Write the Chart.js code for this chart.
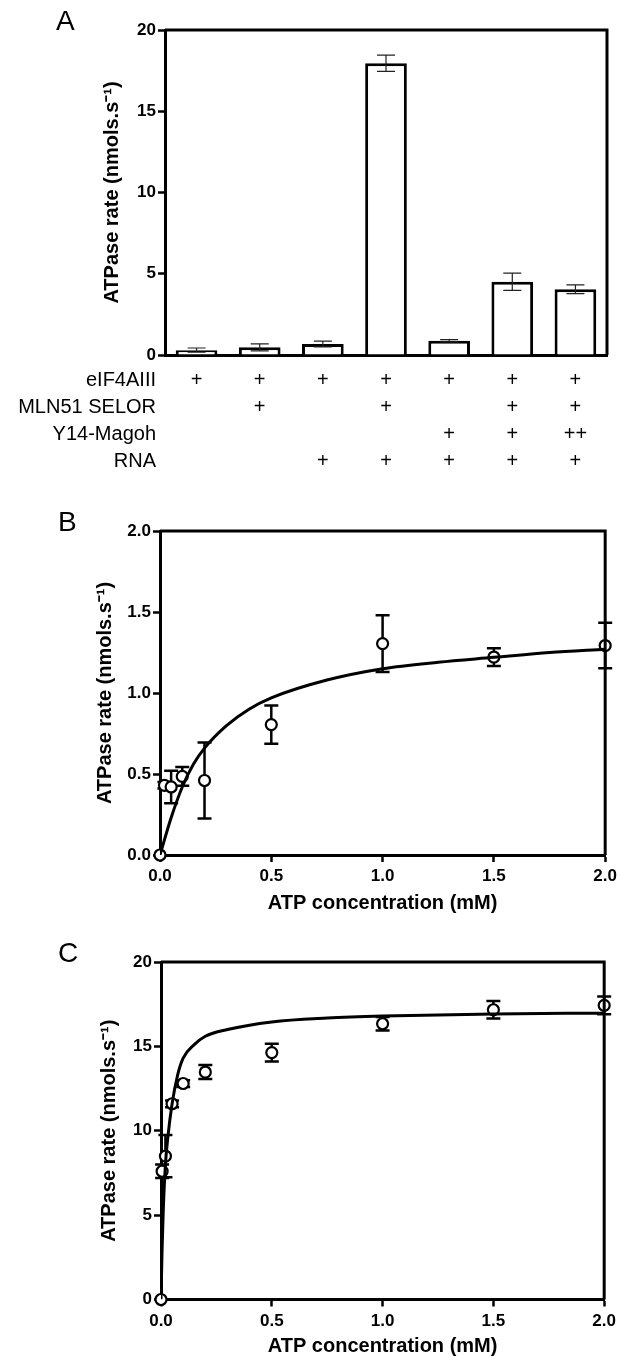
<!DOCTYPE html>
<html>
<head>
<meta charset="utf-8">
<title>ATPase activity of eIF4AIII</title>
<script src="https://cdn.jsdelivr.net/npm/chart.js@4.4.1/dist/chart.umd.min.js"></script>
<style>
  html, body { margin: 0; padding: 0; background: #fff; }
  #wrap { position: relative; width: 621px; height: 1357px; overflow: hidden; }
  canvas { position: absolute; left: 0; }
</style>
</head>
<body>
<div id="wrap">
  <canvas id="chartA" width="621" height="480" style="top:0"></canvas>
  <canvas id="chartB" width="621" height="440" style="top:480px"></canvas>
  <canvas id="chartC" width="621" height="437" style="top:920px"></canvas>
</div>
<script>
// --- Panel A: ATPase rate per condition ---
const conditions = ['1', '2', '3', '4', '5', '6', '7'];
const rateA = [0.30, 0.47, 0.68, 17.95, 0.88, 4.51, 4.05];
const errA = [0.13, 0.21, 0.18, 0.50, 0.07, 0.53, 0.27];

// condition table under the bars
const rowNames = ['eIF4AIII', 'MLN51 SELOR', 'Y14-Magoh', 'RNA'];
const eif4aiii = ['+', '+', '+', '+', '+', '+', '+'];
const mln51 = ['', '+', '', '+', '', '+', '+'];
const y14magoh = ['', '', '', '', '+', '+', '++'];
const rna = ['', '', '+', '+', '+', '+', '+'];

// --- Panel B: eIF4AIII + MLN51 (low rate) ---
const atpB = [0, 0.02, 0.05, 0.1, 0.2, 0.5, 1.0, 1.5, 2.0];
const rateB = [0, 0.43, 0.42, 0.485, 0.46, 0.805, 1.305, 1.222, 1.293];
const errB = [0, 0.02, 0.10, 0.058, 0.235, 0.118, 0.175, 0.055, 0.14];
const fitXB = [0, 0.05, 0.1, 0.15, 0.2, 0.3, 0.4, 0.5, 0.75, 1.0, 1.25, 1.5, 1.75, 2.0];
const fitYB = [0, 0.23, 0.42, 0.56, 0.66, 0.80, 0.90, 0.97, 1.08, 1.15, 1.19, 1.22, 1.25, 1.27];

// --- Panel C: full complex + RNA ---
const atpC = [0, 0.005, 0.02, 0.05, 0.1, 0.2, 0.5, 1.0, 1.5, 2.0];
const rateC = [0, 7.6, 8.5, 11.6, 12.8, 13.48, 14.63, 16.34, 17.17, 17.43];
const errC = [0, 0.4, 1.25, 0.2, 0.2, 0.42, 0.52, 0.4, 0.52, 0.53];
const fitXC = [0, 0.005, 0.01, 0.02, 0.03, 0.05, 0.075, 0.1, 0.15, 0.2, 0.3, 0.5, 0.75, 1.0, 1.5, 2.0];
const fitYC = [0, 3.0, 5.2, 8.0, 9.5, 11.6, 13.3, 14.3, 15.1, 15.6, 16.0, 16.45, 16.68, 16.8, 16.92, 16.97];

const yTitle = 'ATPase rate (nmols.s\u207B\u00B9)';
const xTitle = 'ATP concentration (mM)';

const FONT = '"Liberation Sans", Arial, Helvetica, sans-serif';
Chart.defaults.font.family = FONT;
Chart.defaults.color = '#000';

const tickFont = { size: 17, weight: 'bold' };
const titleFont = { size: 20, weight: 'bold' };

// error bars, drawn with the y scale of the chart
function drawErrors(chart, opts) {
    const ctx = chart.ctx;
    const yScale = chart.scales.y;
    chart.data.datasets.forEach((ds, di) => {
        if (!ds.errors) return;
        const meta = chart.getDatasetMeta(di);
        ctx.save();
        ctx.strokeStyle = opts.color;
        ctx.lineWidth = opts.width;
        meta.data.forEach((el, i) => {
            const e = ds.errors[i];
            if (!e) return;
            const raw = ds.data[i];
            const v = typeof raw === 'object' ? raw.y : raw;
            const top = yScale.getPixelForValue(v + e);
            const bot = yScale.getPixelForValue(v - e);
            const half = opts.cap / 2;
            ctx.beginPath();
            ctx.moveTo(el.x, top); ctx.lineTo(el.x, bot);
            ctx.moveTo(el.x - half, top); ctx.lineTo(el.x + half, top);
            ctx.moveTo(el.x - half, bot); ctx.lineTo(el.x + half, bot);
            ctx.stroke();
        });
        ctx.restore();
    });
}

const errorBars = {
    id: 'errorBars',
    beforeDatasetsDraw(chart, args, opts) { if (opts.under) drawErrors(chart, opts); },
    afterDatasetsDraw(chart, args, opts) { if (!opts.under) drawErrors(chart, opts); }
};

// top + right edges of the box
const frame = {
    id: 'frame',
    afterDatasetsDraw(chart, args, opts) {
        const { ctx, chartArea: a } = chart;
        ctx.save();
        ctx.strokeStyle = '#000';
        ctx.lineWidth = opts.width;
        ctx.beginPath();
        ctx.moveTo(a.left, a.top);
        ctx.lineTo(a.right, a.top);
        ctx.lineTo(a.right, a.bottom);
        ctx.stroke();
        ctx.restore();
    }
};

// the A / B / C letter
const panelLetter = {
    id: 'panelLetter',
    afterDraw(chart, args, opts) {
        const ctx = chart.ctx;
        ctx.save();
        ctx.font = '28px ' + FONT;
        ctx.fillStyle = '#000';
        ctx.textBaseline = 'alphabetic';
        ctx.fillText(opts.text, opts.x, chart.chartArea.top);
        ctx.restore();
    }
};

// row names of the condition table, lined up with the x tick lines
const rowLabels = {
    id: 'rowLabels',
    afterDraw(chart) {
        const ctx = chart.ctx;
        const xs = chart.scales.x;
        const tOpts = xs.options.ticks;
        const lh = tOpts.font.size * tOpts.font.lineHeight;
        ctx.save();
        ctx.font = tOpts.font.size + 'px ' + FONT;
        ctx.fillStyle = '#000';
        ctx.textAlign = 'right';
        ctx.textBaseline = 'middle';
        rowNames.forEach((name, i) => {
            ctx.fillText(name, chart.chartArea.left - 9, xs.top + tOpts.padding + lh / 2 + i * lh);
        });
        ctx.restore();
    }
};

function yAxis(max, step, decimals, width, titlePad) {
    return {
        min: 0, max: max, z: 1,
        border: { color: '#000', width: 3 },
        grid: { drawOnChartArea: false, drawTicks: true, tickLength: 7, tickWidth: 2.5, tickColor: '#000' },
        ticks: { stepSize: step, padding: 2, color: '#000', font: tickFont, callback: v => v.toFixed(decimals) },
        title: { display: true, text: yTitle, color: '#000', font: titleFont, padding: { top: titlePad, bottom: 0 } },
        afterFit(s) { s.width = width; }
    };
}

function xAxisConc(height, tickPad, titlePad) {
    return {
        type: 'linear', min: 0, max: 2, z: 1,
        border: { color: '#000', width: 3 },
        grid: { drawOnChartArea: false, drawTicks: true, tickLength: 7, tickWidth: 2.5, tickColor: '#000' },
        ticks: { stepSize: 0.5, padding: tickPad, color: '#000', font: tickFont, maxRotation: 0, callback: v => v.toFixed(1) },
        title: { display: true, text: xTitle, color: '#000', font: titleFont, padding: { top: 0, bottom: titlePad } },
        afterFit(s) { s.height = height; }
    };
}

const common = {
    responsive: false,
    animation: false,
    devicePixelRatio: 1,
    events: []
};

// Panel A
new Chart(document.getElementById('chartA'), {
    type: 'bar',
    data: {
        labels: conditions.map((c, i) => [eif4aiii[i], mln51[i], y14magoh[i], rna[i]]),
        datasets: [{
            data: rateA,
            errors: errA,
            backgroundColor: '#fff',
            borderColor: '#000',
            borderWidth: 3,
            barPercentage: 0.66,
            categoryPercentage: 1
        }]
    },
    options: {
        ...common,
        layout: { padding: { top: 30, right: 14, left: 0, bottom: 0 } },
        plugins: {
            legend: { display: false },
            tooltip: { enabled: false },
            errorBars: { color: '#222', width: 1.2, cap: 18, under: false },
            frame: { width: 3 },
            panelLetter: { text: 'A', x: 56 }
        },
        scales: {
            x: {
                z: 1,
                border: { color: '#000', width: 3 },
                grid: { drawOnChartArea: false, drawTicks: false },
                ticks: { padding: 11.5, color: '#000', autoSkip: false, maxRotation: 0, font: { size: 20, lineHeight: 1.35 } },
                afterFit(s) { s.height = 125; }
            },
            y: yAxis(20, 5, 0, 165, 100)
        }
    },
    plugins: [errorBars, frame, panelLetter, rowLabels]
});

function kineticsChart(id, xs, ys, errs, fx, fy, opts) {
    return new Chart(document.getElementById(id), {
        type: 'scatter',
        data: {
            datasets: [
                {
                    data: fx.map((x, i) => ({ x: x, y: fy[i] })),
                    showLine: true,
                    borderColor: '#000',
                    borderWidth: 3,
                    pointRadius: 0,
                    fill: false,
                    cubicInterpolationMode: 'monotone'
                },
                {
                    data: xs.map((x, i) => ({ x: x, y: ys[i] })),
                    errors: errs,
                    showLine: false,
                    pointRadius: 5.5,
                    pointBorderWidth: 2.2,
                    pointBorderColor: '#000',
                    pointBackgroundColor: '#fff',
                    clip: false
                }
            ]
        },
        options: {
            ...common,
            layout: { padding: { top: opts.top, right: opts.right, left: 0, bottom: 0 } },
            plugins: {
                legend: { display: false },
                tooltip: { enabled: false },
                errorBars: { color: '#000', width: 2.5, cap: 14, under: true },
                frame: { width: 3 },
                panelLetter: { text: opts.letter, x: 58 }
            },
            scales: {
                x: xAxisConc(opts.xHeight, opts.tickPad, opts.xTitlePad),
                y: yAxis(opts.yMax, opts.yStep, opts.yDec, opts.yWidth, opts.yTitlePad)
            }
        },
        plugins: [errorBars, frame, panelLetter]
    });
}

// Panel B
kineticsChart('chartB', atpB, rateB, errB, fitXB, fitYB, {
    letter: 'B', top: 51, right: 14, xHeight: 65, tickPad: 4, xTitlePad: 4.7,
    yMax: 2, yStep: 0.5, yDec: 1, yWidth: 160, yTitlePad: 93
});

// Panel C
kineticsChart('chartC', atpC, rateC, errC, fitXC, fitYC, {
    letter: 'C', top: 42, right: 16, xHeight: 57.5, tickPad: 5, xTitlePad: -1,
    yMax: 20, yStep: 5, yDec: 0, yWidth: 161, yTitlePad: 97
});
</script>
</body>
</html>
